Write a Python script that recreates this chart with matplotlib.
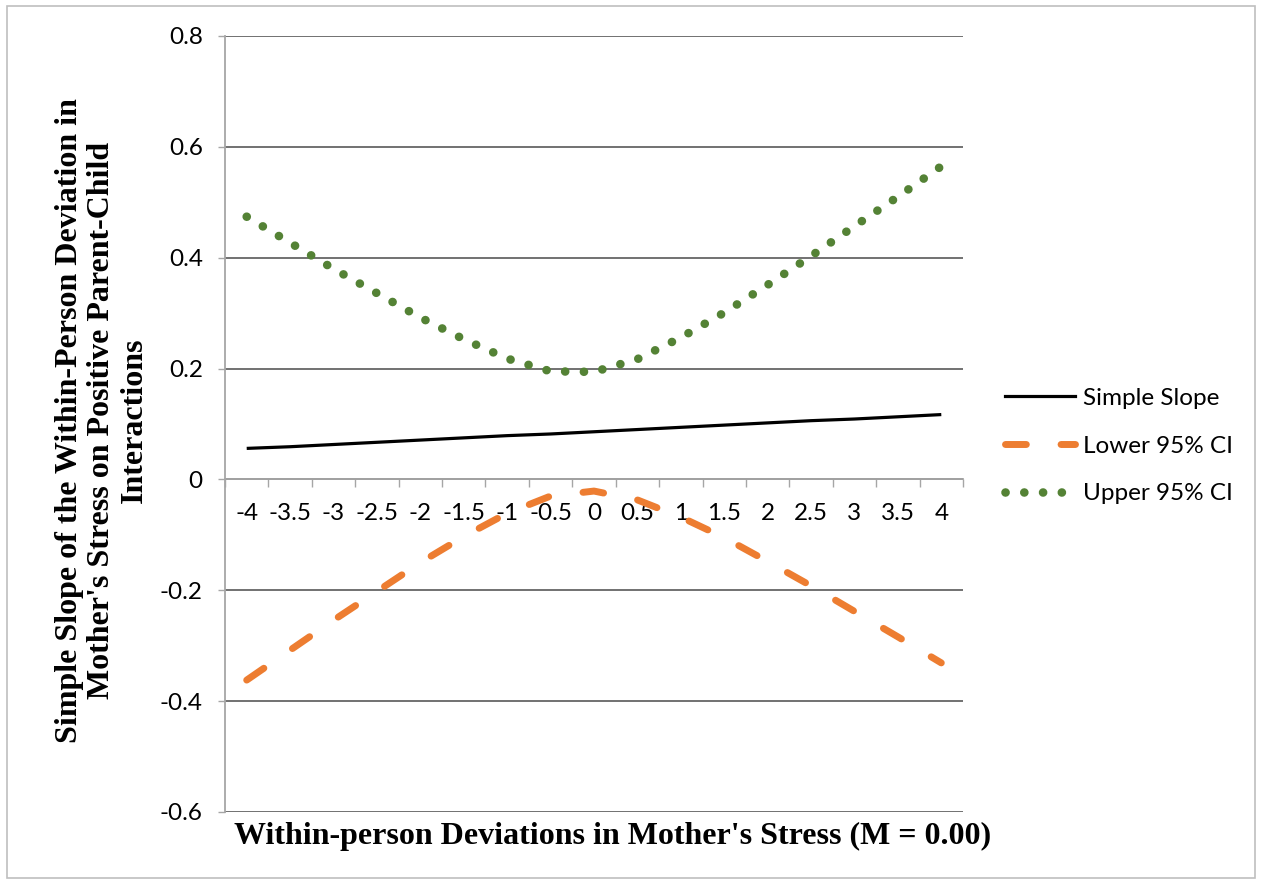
import matplotlib
matplotlib.use("Agg")
import matplotlib.pyplot as plt
from matplotlib.lines import Line2D
from matplotlib.patches import Rectangle

# within-person deviation in mother's stress (category axis)
x_labels = ["-4", "-3.5", "-3", "-2.5", "-2", "-1.5", "-1", "-0.5", "0",
            "0.5", "1", "1.5", "2", "2.5", "3", "3.5", "4"]

simple_slope = [0.056, 0.059, 0.063, 0.067, 0.071, 0.075, 0.079, 0.082, 0.086,
                0.090, 0.094, 0.098, 0.102, 0.106, 0.109, 0.113, 0.117]
upper_ci = [0.474, 0.427, 0.380, 0.336, 0.292, 0.253, 0.218, 0.195, 0.194,
            0.217, 0.256, 0.301, 0.351, 0.403, 0.457, 0.510, 0.565]
lower_ci = [-0.362, -0.308, -0.254, -0.202, -0.150, -0.103, -0.061, -0.030, -0.021,
            -0.037, -0.068, -0.105, -0.148, -0.192, -0.238, -0.284, -0.331]

y_ticks = [-0.6, -0.4, -0.2, 0, 0.2, 0.4, 0.6, 0.8]
y_tick_labels = ["-0.6", "-0.4", "-0.2", "0", "0.2", "0.4", "0.6", "0.8"]

orange = "#ED7D31"
green = "#548235"
tick_font = "Lato"
tick_size = 17.5


def main():
    fig = plt.figure(figsize=(12.62, 8.84), dpi=100)
    ax = fig.add_axes([225 / 1262, 1 - 812 / 884, 738 / 1262, 776 / 884])

    xs = list(range(len(x_labels)))
    ax.plot(xs, simple_slope, color="black", lw=2.3, solid_capstyle="butt",
            label="Simple Slope", zorder=4)
    ax.plot(xs, lower_ci, color=orange, lw=5, dashes=(3, 5),
            dash_capstyle="round", label="Lower 95% CI", zorder=4)
    ax.plot(xs, upper_ci, color=green, lw=6.2, dashes=(0.01, 2.17),
            dash_capstyle="round", label="Upper 95% CI", zorder=4)

    ax.set_xlim(-0.5, len(x_labels) - 0.5)
    ax.set_ylim(-0.6, 0.8)

    # gridlines
    ax.set_yticks(y_ticks)
    ax.set_yticklabels(y_tick_labels, fontname=tick_font, fontsize=tick_size)
    ax.yaxis.grid(True, color="#595959", lw=1.2)
    ax.set_axisbelow(True)
    ax.tick_params(axis="y", length=5, width=1, color="#A6A6A6", pad=11)

    # category axis crossing at zero
    ax.spines["bottom"].set_position(("data", 0))
    ax.spines["bottom"].set_color("#A6A6A6")
    ax.spines["bottom"].set_linewidth(1.3)
    ax.spines["bottom"].set_zorder(3)
    ax.spines["left"].set_color("#A6A6A6")
    ax.spines["left"].set_linewidth(1.3)
    ax.spines["top"].set_visible(False)
    ax.spines["right"].set_visible(False)

    ax.set_xticks([i - 0.5 for i in range(len(x_labels) + 1)])
    ax.set_xticklabels([])
    ax.tick_params(axis="x", which="major", length=6, width=1,
                   color="#A6A6A6", direction="out")
    ax.set_xticks(xs, minor=True)
    ax.set_xticklabels(x_labels, minor=True, fontname=tick_font, fontsize=tick_size)
    ax.tick_params(axis="x", which="minor", length=0, pad=17)

    ax.set_ylabel("Simple Slope of the Within-Person Deviation in\n"
                  "Mother's Stress on Positive Parent-Child\n"
                  "Interactions",
                  fontname="Liberation Serif", fontweight="bold",
                  fontsize=23, linespacing=1.17)
    ax.yaxis.set_label_coords(-0.103, 0.505)

    fig.text(613 / 1262, 1 - 836 / 884,
             "Within-person Deviations in Mother's Stress (M = 0.00)",
             fontname="Liberation Serif", fontweight="bold", fontsize=23,
             ha="center", va="center")

    handles = [
        Line2D([], [], color="black", lw=2.3),
        Line2D([], [], color=orange, lw=5, dashes=(3, 5), dash_capstyle="round"),
        Line2D([], [], color=green, lw=6.2, dashes=(0.01, 2.17), dash_capstyle="round"),
    ]
    fig.legend(handles, ["Simple Slope", "Lower 95% CI", "Upper 95% CI"],
               loc="center left", bbox_to_anchor=(983 / 1262, 1 - 446 / 884),
               frameon=False, handlelength=2.9, handletextpad=0.3,
               labelspacing=1.1, prop={"family": tick_font, "size": tick_size})

    # chart area border
    fig.patches.append(Rectangle((7 / 1262, 6 / 884), 1248 / 1262, 872 / 884,
                                 transform=fig.transFigure, fill=False,
                                 edgecolor="#BFBFBF", lw=1.2))

    fig.savefig("out.png", dpi=100, facecolor="white")


if __name__ == "__main__":
    main()
